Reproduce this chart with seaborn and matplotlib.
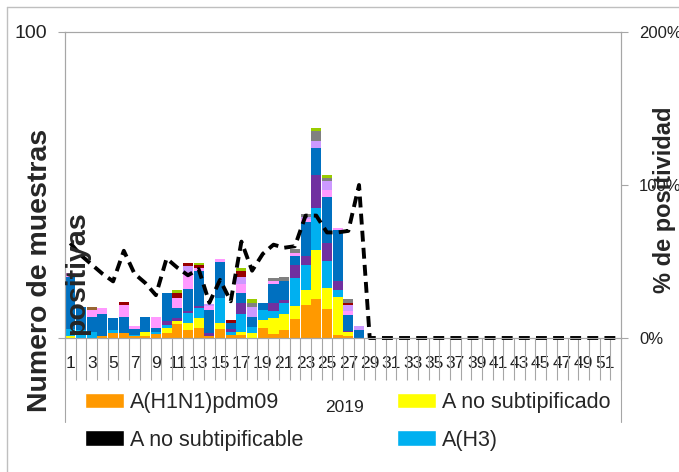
import numpy as np
import pandas as pd
import matplotlib
matplotlib.use("Agg")
import matplotlib.pyplot as plt
import matplotlib.transforms as mtransforms
from matplotlib.lines import Line2D
from matplotlib.patches import Patch
from matplotlib.ticker import PercentFormatter
import seaborn as sns

W, H = 679, 472

weeks = list(range(1, 53))
tick_labels = [str(w) for w in range(1, 52, 2)]

# muestras positivas, semanas 1-28 (el resto del año es 0)
h1n1 = [0, 0, 0, 0.7, 1.5, 1.7, 0.7, 0.8, 1.3, 1.6, 4.5, 2.5, 3.3, 0.7, 2.8, 1, 1, 0, 3.3, 1.3, 2.5, 6.3, 10.7, 12.7, 9.5, 1, 0.8, 0]
no_subtipificado = [0.8, 0, 0, 0, 0, 0, 0, 1, 0, 1.6, 1, 2.3, 3.3, 0, 2, 0, 1, 1.7, 2.7, 5.2, 5.5, 4.2, 5, 16, 7, 12.5, 1, 0]
no_subtipificable = [0] * 28
h3 = [2, 2.5, 2, 0, 1, 0, 0.4, 0, 0.5, 1.2, 0, 3.3, 3.3, 0, 8.2, 1, 6, 2, 3.3, 2.3, 3.3, 9, 8.2, 13.7, 8.7, 2.2, 0, 0]
purpura = [0, 0, 0, 0, 0, 0, 0, 0, 0, 1, 0.9, 0.8, 0.7, 1, 0, 1, 3.6, 0, 0, 2.7, 1, 4.2, 3, 11, 6, 2.8, 0.6, 0]
azul = [17, 7.5, 5, 7, 4, 5, 1.7, 5, 1.5, 9.4, 3.5, 7.2, 11.4, 7.3, 11.8, 2, 3, 3, 2, 6.2, 6.3, 3, 11, 8.8, 15, 16.7, 5, 2.5]
rosa = [1.5, 0, 2, 2, 0, 4.2, 1, 0, 3.5, 0, 3.3, 5.5, 1, 1.5, 1, 0, 3.2, 0, 0, 1, 0, 1, 1, 0, 2.2, 0.7, 1.3, 0]
lila = [0, 0, 0, 0, 0, 0, 0, 0, 0, 0, 0, 1.8, 0, 0.5, 0, 0, 2, 3.3, 0, 0, 0, 0, 0.6, 2.3, 3, 0, 2, 1.3]
marron = [0, 0, 1.2, 0, 0, 0, 0, 0, 0, 0, 0, 0, 0, 0, 0, 0, 0, 0, 0, 0, 0, 0, 0, 0, 0, 0, 0, 0]
granate = [0, 0, 0, 0, 0, 1, 0, 0, 0, 0, 1.5, 1, 0.8, 0, 0, 1, 2, 0, 0, 0, 0, 0, 0, 0, 0, 0, 0.8, 0]
gris = [0, 0, 0, 0, 0, 0, 0, 0, 0, 0, 0, 0, 0, 0, 0, 0, 0, 1.6, 0, 1, 1.2, 1.3, 1, 3.2, 1, 0, 1.2, 0]
verde = [0, 0, 0, 0, 0, 0, 0, 0, 0, 0, 1, 0, 0.8, 0, 0, 0, 1, 1.3, 0, 0, 0, 0, 0, 0.8, 1, 0, 0, 0]

# % de positividad
positividad = [62, 54, 48, 42, 37, 57, 42, 36, 28, 52, 46, 41, 45, 23, 38, 24, 63, 44, 55, 61,
               59, 60, 80, 80, 69, 69, 70, 100] + [0] * 24


def full(v):
    return v + [0] * (52 - len(v))


series = {
    "A(H1N1)pdm09": h1n1,
    "A no subtipificado": no_subtipificado,
    "A no subtipificable": no_subtipificable,
    "A(H3)": h3,
    "serie 5": purpura,
    "serie 6": azul,
    "serie 7": rosa,
    "serie 8": lila,
    "serie 9": marron,
    "serie 10": granate,
    "serie 11": gris,
    "serie 12": verde,
}
colors = {
    "A(H1N1)pdm09": "#FF9900",
    "A no subtipificado": "#FFFF00",
    "A no subtipificable": "#000000",
    "A(H3)": "#00B0F0",
    "serie 5": "#7030A0",
    "serie 6": "#0070C0",
    "serie 7": "#FF99FF",
    "serie 8": "#CC99FF",
    "serie 9": "#996633",
    "serie 10": "#990000",
    "serie 11": "#808080",
    "serie 12": "#99CC00",
}

rows = []
for name, vals in series.items():
    for w, n in zip(weeks, full(vals)):
        rows.append({"semana": w, "serie": name, "n": n})
df = pd.DataFrame(rows)

sns.set_theme(style="white")
plt.rcParams["font.family"] = ["Liberation Sans", "DejaVu Sans"]

GRAY = "#A6A6A6"

fig = plt.figure(figsize=(W / 100, H / 100), dpi=100)
ax = fig.add_axes([65 / W, 1 - 338 / H, 556 / W, 306 / H])

# barras apiladas (primer nivel de hue queda arriba)
sns.histplot(data=df, x="semana", weights="n", hue="serie",
             hue_order=list(series)[::-1], palette=colors,
             multiple="stack", discrete=True, shrink=0.94,
             alpha=1, linewidth=0, legend=False, ax=ax)

ax.set_xlim(0.5, 52.5)
ax.set_ylim(0, 100)
ax.set_xticks(range(1, 52, 2))
ax.set_xticklabels(tick_labels)
ax.set_xticks(np.arange(0.5, 53, 1), minor=True)
ax.tick_params(axis="x", which="major", bottom=True, length=0, pad=13,
               labelsize=12.5, labelcolor="#222222")
ax.tick_params(axis="x", which="minor", bottom=True, length=30, width=0.8,
               color=GRAY, direction="out")
ax.set_yticks([0, 100])
ax.set_yticklabels(["", "100"])
ax.tick_params(axis="y", left=True, length=5, width=0.8, color=GRAY, pad=8,
               labelsize=14, labelcolor="#222222")
ax.set_xlabel("")
ax.set_ylabel("")
for s in ax.spines.values():
    s.set_color(GRAY)
    s.set_linewidth(0.8)

# lineas de grupo (2019) bajo el eje
trans = mtransforms.blended_transform_factory(ax.transData, ax.transAxes)
for xb in (0.5, 52.5):
    ax.plot([xb, xb], [0, -84 / 306], transform=trans, color=GRAY, lw=0.8, clip_on=False)

# % positividad en eje secundario
ax2 = ax.twinx()
sns.lineplot(x=weeks, y=positividad, ax=ax2, color="black", linewidth=2.8,
             linestyle=(0, (2.8, 1.6)), clip_on=False)
ax2.set_ylim(0, 200)
ax2.set_yticks([0, 100, 200])
ax2.yaxis.set_major_formatter(PercentFormatter(decimals=0))
ax2.tick_params(axis="y", right=True, length=5, width=0.8, color=GRAY, pad=8,
                labelsize=12, labelcolor="#222222")
ax2.set_xlabel("")
ax2.set_ylabel("")
for s in ax2.spines.values():
    s.set_color(GRAY)
    s.set_linewidth(0.8)

# titulos de ejes
fig.text(40 / W, 1 - 270 / H, "Numero de muestras", rotation=90, ha="center", va="center",
         fontsize=20.5, fontweight="bold")
fig.text(77 / W, 1 - 273 / H, "positiyas", rotation=90, ha="center", va="center",
         fontsize=20.5, fontweight="bold")
fig.text(664 / W, 1 - 200 / H, "% de positividad", rotation=90, ha="center", va="center",
         fontsize=17, fontweight="bold")
fig.text(345 / W, 1 - 408 / H, "2019", ha="center", va="center", fontsize=12.5, color="#222222")

# leyenda (dos columnas)
leg_kw = dict(loc="upper left", frameon=False, fontsize=15.5, handlelength=1.8,
              handleheight=0.75, handletextpad=0.3, labelspacing=0.78,
              borderpad=0, borderaxespad=0)
col1 = ["A(H1N1)pdm09", "A no subtipificable"]
col2 = ["A no subtipificado", "A(H3)"]
fig.legend(handles=[Patch(facecolor=colors[n], label=n) for n in col1],
           bbox_to_anchor=(85 / W, 1 - 392 / H), **leg_kw)
fig.legend(handles=[Patch(facecolor=colors[n], label=n) for n in col2],
           bbox_to_anchor=(397 / W, 1 - 392 / H), **leg_kw)

# marco exterior
fig.add_artist(Line2D([7 / W, 7 / W], [0, 1 - 7 / H], transform=fig.transFigure, color="#BFBFBF", lw=1))
fig.add_artist(Line2D([7 / W, 1], [1 - 7 / H, 1 - 7 / H], transform=fig.transFigure, color="#BFBFBF", lw=1))

fig.savefig("out.png", dpi=100)
